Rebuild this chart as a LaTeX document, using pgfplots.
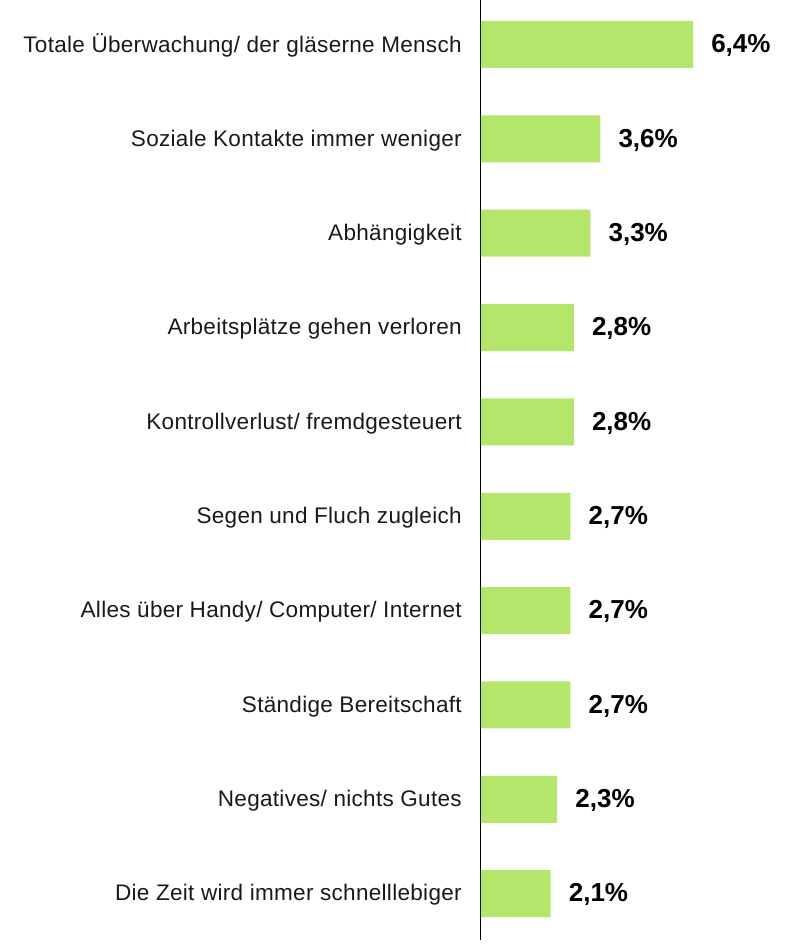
\documentclass[border=0pt]{standalone}
\usepackage{pgfplots}
\pgfplotsset{compat=1.18}
\usepackage{fontspec}
\setmainfont{Liberation Sans}
\newfontfamily\labfont[LetterSpace=1.3]{Liberation Sans}
\definecolor{barcol}{HTML}{B3E66B}
\begin{document}
\begin{tikzpicture}
\useasboundingbox (-360.75pt,-3pt) rectangle (231.75pt,705pt);
\begin{axis}[
  at={(0,0)}, anchor=south west,
  scale only axis,
  width=231.75pt, height=705pt,
  xmin=0, xmax=9.328,
  ymin=-0.4716, ymax=9.4907,
  y dir=reverse,
  axis x line=none,
  axis y line*=left,
  y axis line style={line width=0.75pt, black, -},
  ytick={0,1,2,3,4,5,6,7,8,9},
  yticklabels={Totale Überwachung/ der gläserne Mensch,Soziale Kontakte immer weniger,Abhängigkeit,Arbeitsplätze gehen verloren,Kontrollverlust/ fremdgesteuert,Segen und Fluch zugleich,Alles über Handy/ Computer/ Internet,Ständige Bereitschaft,Negatives/ nichts Gutes,Die Zeit wird immer schnelllebiger},
  ytick style={draw=none},
  yticklabel style={anchor=east, inner sep=0pt, xshift=-14.25pt, yshift=-1pt, font=\labfont\fontsize{16.9}{20}\selectfont, text=black!90},
  clip=false,
]
\addplot[xbar, fill=barcol, draw=none, bar width=0.498,
  point meta=explicit symbolic,
  nodes near coords,
  nodes near coords style={anchor=west, inner sep=0pt, xshift=13.5pt, yshift=-0.9pt, font=\fontsize{19.5}{22}\selectfont\bfseries, text=black}]
coordinates {
(6.4,0) [6,4\%]
(3.6,1) [3,6\%]
(3.3,2) [3,3\%]
(2.8,3) [2,8\%]
(2.8,4) [2,8\%]
(2.7,5) [2,7\%]
(2.7,6) [2,7\%]
(2.7,7) [2,7\%]
(2.3,8) [2,3\%]
(2.1,9) [2,1\%]
};
\end{axis}
\end{tikzpicture}
\end{document}
